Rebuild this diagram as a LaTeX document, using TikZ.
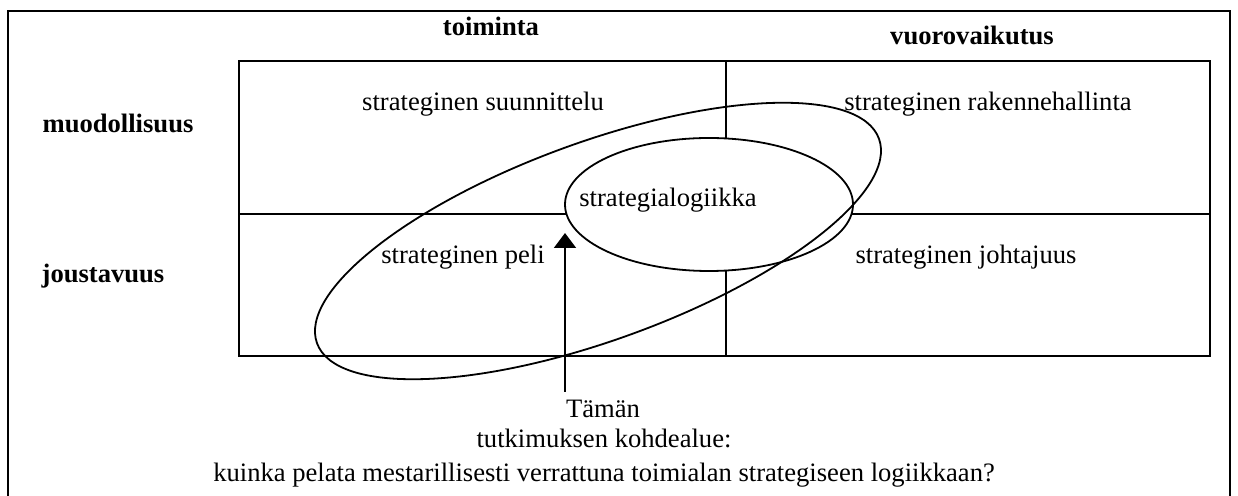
\documentclass[tikz,border=0pt]{standalone}
\usepackage{fontspec}
\setmainfont{Liberation Serif}
\usetikzlibrary{arrows.meta}
\begin{document}
\begin{tikzpicture}[x=0.5pt,y=-0.5pt,
  every node/.style={inner sep=0pt,font=\fontsize{13.3}{16}\selectfont},
  head/.style={anchor=base,font=\fontsize{13.3}{16}\selectfont\bfseries},
  cell/.style={anchor=base},
  frameline/.style={line width=1.1pt},
  gridline/.style={line width=0.85pt},
  ringline/.style={line width=0.9pt}]
\useasboundingbox (0,0) rectangle (1238,496);

% outer frame (open at the bottom edge of the page)
\draw[frameline] (8,497) -- (8,11) -- (1230,11) -- (1230,497);

% the four-field grid
\draw[gridline] (239,61) rectangle (1210,356);
\draw[gridline] (726,61) -- (726,356);
\draw[gridline] (239,214) -- (1210,214);

% column and row headings
\node[head] (toim) at (491,36) {toiminta};
\node[head] (vuor) at (972,45) {vuorovaikutus};
\node[head] (muod) at (118,133) {muodollisuus};
\node[head] (jous) at (103,283) {joustavuus};

% field labels
\node[cell] (suun) at (483,111) {strateginen suunnittelu};
\node[cell] (rake) at (988,111) {strateginen rakennehallinta};
\node[cell] (peli) at (463,264) {strateginen peli};
\node[cell] (joht) at (966,264) {strateginen johtajuus};

% strategy logic ellipse, covering the grid lines
\draw[ringline,fill=white] (709,204.5) ellipse [x radius=72pt, y radius=33.25pt];
\node[cell] (logi) at (668,207) {strategialogiikka};

% wide tilted ellipse
\draw[ringline,rotate around={20:(598,241)}] (598,241) ellipse [x radius=149.5pt, y radius=49.5pt];

% arrow pointing at the research area
\coordinate (afoot) at (565,392);
\coordinate (atip) at (565,233);
\draw[gridline,-{Triangle[width=11pt,length=7.5pt]}] (afoot) -- (atip);

% caption below the grid
\node[cell] (cap1) at (603,418) {Tämän};
\node[cell] (cap2) at (604,448) {tutkimuksen kohdealue:};
\node[cell] (cap3) at (604,482) {kuinka pelata mestarillisesti verrattuna toimialan strategiseen logiikkaan?};
\end{tikzpicture}
\end{document}
